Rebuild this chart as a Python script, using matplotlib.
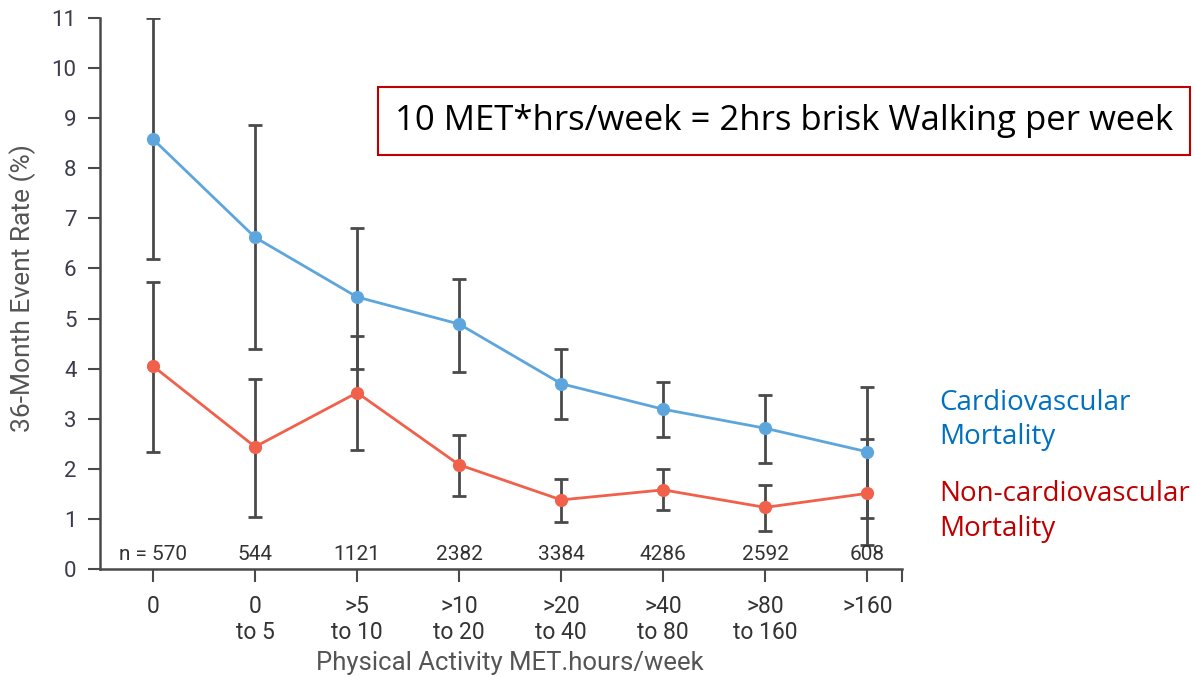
import matplotlib
matplotlib.use("Agg")
import matplotlib.pyplot as plt
import numpy as np

# categories and sample sizes
categories = ["0", "0\nto 5", ">5\nto 10", ">10\nto 20", ">20\nto 40", ">40\nto 80", ">80\nto 160", ">160"]
n_counts = ["n = 570", "544", "1121", "2382", "3384", "4286", "2592", "608"]

# cardiovascular mortality (%) with CI
cv_rate = [8.58, 6.62, 5.43, 4.89, 3.70, 3.19, 2.81, 2.34]
cv_upper = [11.0, 8.86, 6.81, 5.79, 4.39, 3.74, 3.48, 3.64]
cv_lower = [6.19, 4.39, 4.00, 3.93, 3.00, 2.63, 2.11, 1.02]

# non-cardiovascular mortality (%) with CI
ncv_rate = [4.05, 2.44, 3.52, 2.08, 1.38, 1.58, 1.23, 1.51]
ncv_upper = [5.72, 3.79, 4.65, 2.67, 1.80, 1.99, 1.68, 2.59]
ncv_lower = [2.33, 1.03, 2.38, 1.46, 0.94, 1.18, 0.76, 0.47]

narrow = ["Roboto", "DejaVu Sans"]
axis_col = "#4a4a4a"
blue = "#5da6dd"
red = "#f0604a"

fig = plt.figure(figsize=(11.95, 6.77), dpi=100)
ax = fig.add_axes([0.0837, 0.1595, 0.6711, 0.8139])

x = np.arange(len(categories))
cv_rate = np.array(cv_rate)
ncv_rate = np.array(ncv_rate)

for rate, up, lo, col in [(cv_rate, cv_upper, cv_lower, blue),
                          (ncv_rate, ncv_upper, ncv_lower, red)]:
    err = [rate - np.array(lo), np.array(up) - rate]
    ax.errorbar(x, rate, yerr=err, fmt="none", ecolor=axis_col,
                elinewidth=2, capsize=5, capthick=2, zorder=2)
    ax.plot(x, rate, color=col, lw=2, marker="o", markersize=8.5,
            markeredgecolor=col, zorder=3)

ax.set_xlim(-0.52, 7.34)
ax.set_ylim(0, 11)
ax.set_yticks(range(0, 12))
ax.set_yticklabels([str(v) for v in range(0, 12)], family=narrow)
ax.set_xticks(list(x) + [7.34])
ax.set_xticklabels(categories + [""], fontsize=16.5, color="#333333",
                   family=narrow, linespacing=1.15)
ax.tick_params(axis="x", length=9, width=1.5, color=axis_col, pad=10)
ax.tick_params(axis="y", length=9, width=1.5, color=axis_col, pad=8,
               labelsize=16, labelcolor="#3c3c4e")

for s in ["top", "right"]:
    ax.spines[s].set_visible(False)
for s in ["left", "bottom"]:
    ax.spines[s].set_color(axis_col)
    ax.spines[s].set_linewidth(1.8)

for xi, lab in zip(x, n_counts):
    ax.text(xi, 0.1, lab, ha="center", va="bottom", fontsize=15,
            color="#333333", family=narrow)

fig.text(0.019, 0.575, "36-Month Event Rate (%)", rotation=90, ha="center",
         va="center", fontsize=19, color="#555555", family=narrow)
fig.text(0.427, 0.0207, "Physical Activity MET.hours/week", ha="center",
         va="center", fontsize=18.5, color="#555555", family=narrow)

fig.text(0.3305, 0.8212, "10 MET*hrs/week = 2hrs brisk Walking per week",
         ha="left", va="center", fontsize=25, color="black", family="Open Sans",
         bbox=dict(boxstyle="square,pad=0.5", fc="white", ec="#c00000", lw=1.5))

fig.text(0.786, 0.3796, "Cardiovascular\nMortality", ha="left", va="center",
         fontsize=20, color="#0070c0", family="Open Sans", linespacing=1.3)
fig.text(0.786, 0.2445, "Non-cardiovascular\nMortality", ha="left", va="center",
         fontsize=20, color="#c00000", family="Open Sans", linespacing=1.3)

fig.savefig("out.png", dpi=100)
